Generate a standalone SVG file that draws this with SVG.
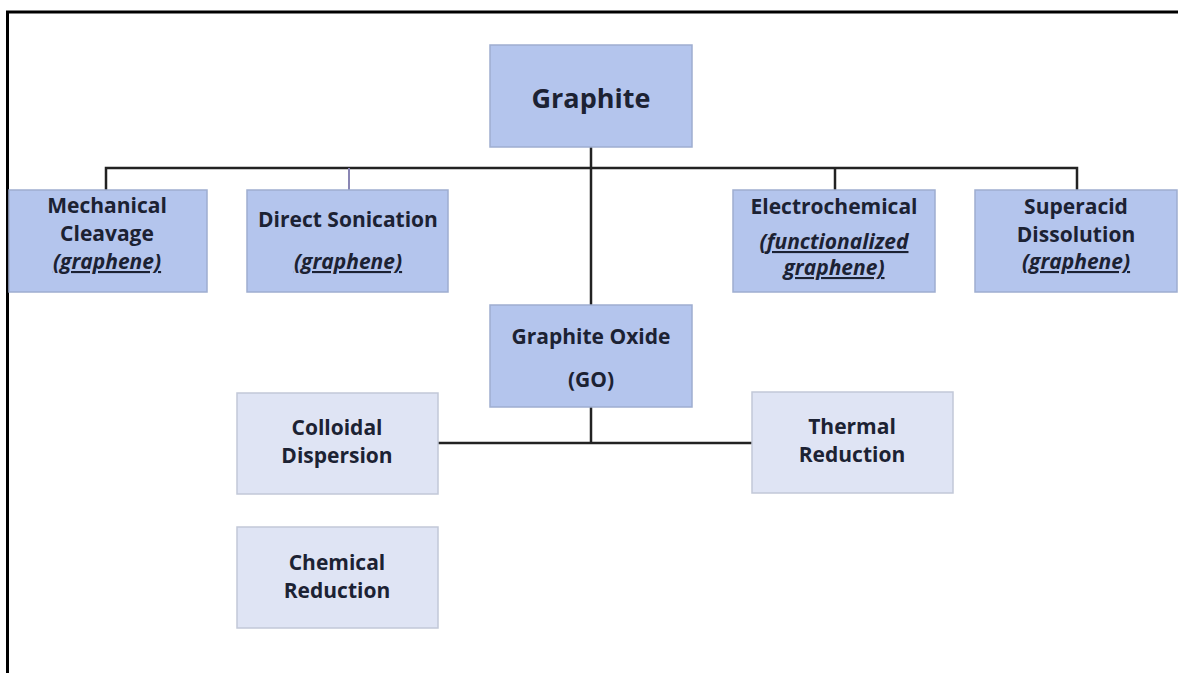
<svg xmlns="http://www.w3.org/2000/svg" width="1178" height="673" viewBox="0 0 1178 673">
<style>
.dark{fill:#b4c5ed;stroke:#9eadd0;stroke-width:1.5}
.light{fill:#dfe4f4;stroke:#c2c8d8;stroke-width:1.5}
.t{font-family:"Open Sans","Liberation Sans",sans-serif;font-weight:bold;font-size:21px;fill:#1c2233;text-anchor:middle}
.big{font-size:27px}
.it{font-style:italic;text-decoration:underline}
.ln{stroke:#222;stroke-width:2.5;fill:none}
</style>
<rect width="1178" height="673" fill="#ffffff"/>
<g id="frame">
<path d="M7.5 673 V12 H1178" fill="none" stroke="#000" stroke-width="3"/>
</g>
<g id="connectors">
<path class="ln" d="M591 147 V305"/>
<path class="ln" d="M106 190 V168 H1077 V190"/>
<path class="ln" d="M835 168 V190"/>
<path d="M349 168 V190" stroke="#8a86b4" stroke-width="2" fill="none"/>
<path class="ln" d="M591 407 V443"/>
<path class="ln" d="M438 443 H752"/>
</g>
<g id="graphite">
<rect class="dark" x="490" y="45" width="202" height="102"/>
<text class="t big" x="591" y="108">Graphite</text>
</g>
<g id="mechanical">
<rect class="dark" x="9" y="190" width="198" height="102"/>
<text class="t" x="107" y="213">Mechanical</text>
<text class="t" x="107" y="241">Cleavage</text>
<text class="t it" x="107" y="269">(graphene)</text>
</g>
<g id="sonication">
<rect class="dark" x="247" y="190" width="201" height="102"/>
<text class="t" x="348" y="227">Direct Sonication</text>
<text class="t it" x="348" y="269">(graphene)</text>
</g>
<g id="electrochemical">
<rect class="dark" x="733" y="190" width="202" height="102"/>
<text class="t" x="834" y="214">Electrochemical</text>
<text class="t it" x="834" y="249">(functionalized</text>
<text class="t it" x="834" y="275">graphene)</text>
</g>
<g id="superacid">
<rect class="dark" x="975" y="190" width="202" height="102"/>
<text class="t" x="1076" y="214">Superacid</text>
<text class="t" x="1076" y="242">Dissolution</text>
<text class="t it" x="1076" y="269">(graphene)</text>
</g>
<g id="graphite-oxide">
<rect class="dark" x="490" y="305" width="202" height="102"/>
<text class="t" x="591" y="344">Graphite Oxide</text>
<text class="t" x="591" y="387">(GO)</text>
</g>
<g id="colloidal">
<rect class="light" x="237" y="393" width="201" height="101"/>
<text class="t" x="337" y="435">Colloidal</text>
<text class="t" x="337" y="463">Dispersion</text>
</g>
<g id="thermal">
<rect class="light" x="752" y="392" width="201" height="101"/>
<text class="t" x="852" y="434">Thermal</text>
<text class="t" x="852" y="462">Reduction</text>
</g>
<g id="chemical">
<rect class="light" x="237" y="527" width="201" height="101"/>
<text class="t" x="337" y="570">Chemical</text>
<text class="t" x="337" y="598">Reduction</text>
</g>
</svg>
